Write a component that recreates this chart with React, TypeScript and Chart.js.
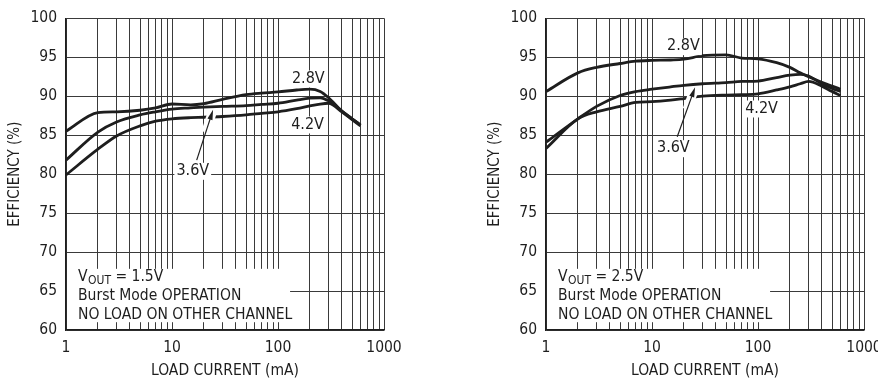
import React, { useEffect, useRef } from 'react';
import { Chart, registerables } from 'chart.js';

Chart.register(...registerables);

// ---------- data ----------
const loadCurrent = [1, 2, 3, 5, 7, 10, 15, 20, 30, 50, 70, 100, 150, 200, 250, 300, 400, 500, 600];

// V_OUT = 1.5V panel
const left28 = [85.5, 87.9, 88.0, 88.2, 88.5, 89.0, 88.9, 89.05, 89.6, 90.2, 90.4, 90.55, 90.8, 90.9, 90.6, 89.8, 88.1, 87.1, 86.3];
const left36 = [81.8, 85.4, 86.7, 87.6, 88.0, 88.35, 88.5, 88.6, 88.7, 88.8, 88.95, 89.1, 89.5, 89.75, 89.8, 89.4, 88.1, 87.1, 86.3];
const left42 = [79.9, 83.2, 84.9, 86.2, 86.8, 87.1, 87.25, 87.3, 87.4, 87.6, 87.8, 88.0, 88.4, 88.75, 89.0, 89.1, 88.0, 87.0, 86.2];

// V_OUT = 2.5V panel
const right28 = [90.6, 93.0, 93.7, 94.2, 94.5, 94.6, 94.65, 94.75, 95.2, 95.3, 94.9, 94.8, 94.3, 93.7, 93.0, 92.5, 91.8, 91.3, 90.9];
const right36 = [84.1, 87.1, 88.7, 90.1, 90.6, 90.9, 91.2, 91.4, 91.6, 91.75, 91.9, 91.95, 92.4, 92.7, 92.8, 92.6, 91.6, 91.0, 90.6];
const right42 = [83.3, 87.1, 88.0, 88.7, 89.2, 89.3, 89.5, 89.7, 90.0, 90.15, 90.2, 90.3, 90.8, 91.2, 91.6, 91.9, 91.3, 90.6, 90.1];

const seriesNames = ['2.8V', '3.6V', '4.2V'];
const xGridValues = [1, 2, 3, 4, 5, 6, 7, 8, 9, 10, 20, 30, 40, 50, 60, 70, 80, 90, 100, 200, 300, 400, 500, 600, 700, 800, 900, 1000];
const xTickLabels = ['1', '10', '100', '1000'];
const yTickValues = [60, 65, 70, 75, 80, 85, 90, 95, 100];
const xTitle = 'LOAD CURRENT (mA)';
const yTitle = 'EFFICIENCY (%)';

const FONT = '"Liberation Sans Narrow", "DejaVu Sans Condensed", "Arial Narrow", sans-serif';
const INK = '#1e1e1e';

type Note = { text: string; x: number; y: number };
type Panel = {
  values: number[][];
  vout: string;
  labels: Note[];
  arrow: { x0: number; y0: number; x1: number; y1: number };
};

const panels: Panel[] = [
  {
    values: [left28, left36, left42],
    vout: ' = 1.5V',
    labels: [
      { text: '2.8V', x: 193, y: 92.15 },
      { text: '4.2V', x: 190, y: 86.25 },
      { text: '3.6V', x: 15.7, y: 80.3 },
    ],
    arrow: { x0: 17.1, y0: 81.8, x1: 24.4, y1: 88.25 },
  },
  {
    values: [right28, right36, right42],
    vout: ' = 2.5V',
    labels: [
      { text: '2.8V', x: 19.8, y: 96.3 },
      { text: '4.2V', x: 108, y: 88.3 },
      { text: '3.6V', x: 15.9, y: 83.2 },
    ],
    arrow: { x0: 17.3, y0: 84.8, x1: 25.5, y1: 91.15 },
  },
];

const notesPlugin = {
  id: 'panelNotes',
  afterDatasetsDraw(chart: any, _args: any, opts: any) {
    const panel: Panel = opts.panel;
    if (!panel) return;
    const { ctx, chartArea } = chart;
    const xs = chart.scales.x;
    const ys = chart.scales.y;
    ctx.save();

    // bottom-left condition box
    const bx0 = chartArea.left + 1;
    const bx1 = xs.getPixelForValue(130);
    const by0 = ys.getPixelForValue(67.85);
    const by1 = ys.getPixelForValue(61.0);
    ctx.fillStyle = '#fff';
    ctx.fillRect(bx0, by0, bx1 - bx0, by1 - by0);

    ctx.fillStyle = INK;
    ctx.textBaseline = 'middle';
    ctx.textAlign = 'left';
    const tx = chartArea.left + 12;
    const big = `15.5px ${FONT}`;
    ctx.font = big;
    ctx.fillText('V', tx, by0 + 8);
    const vw = ctx.measureText('V').width;
    ctx.font = `12px ${FONT}`;
    ctx.fillText('OUT', tx + vw + 0.5, by0 + 12);
    const ow = ctx.measureText('OUT').width;
    ctx.font = big;
    ctx.fillText(panel.vout, tx + vw + 0.5 + ow, by0 + 8);
    ctx.fillText('Burst Mode OPERATION', tx, by0 + 27);
    ctx.fillText('NO LOAD ON OTHER CHANNEL', tx, by0 + 46);

    // arrow
    const a = panel.arrow;
    const ax0 = xs.getPixelForValue(a.x0);
    const ay0 = ys.getPixelForValue(a.y0);
    const ax1 = xs.getPixelForValue(a.x1);
    const ay1 = ys.getPixelForValue(a.y1);
    const ang = Math.atan2(ay1 - ay0, ax1 - ax0);
    const len = Math.hypot(ax1 - ax0, ay1 - ay0);
    const mx = ax0 + Math.cos(ang) * len * 0.55;
    const my = ay0 + Math.sin(ang) * len * 0.55;
    ctx.strokeStyle = '#fff';
    ctx.lineWidth = 9;
    ctx.beginPath();
    ctx.moveTo(mx, my);
    ctx.lineTo(ax1 - Math.cos(ang) * 2, ay1 - Math.sin(ang) * 2);
    ctx.stroke();
    ctx.strokeStyle = INK;
    ctx.lineWidth = 1.2;
    ctx.beginPath();
    ctx.moveTo(ax0, ay0);
    ctx.lineTo(ax1 - Math.cos(ang) * 6, ay1 - Math.sin(ang) * 6);
    ctx.stroke();
    ctx.fillStyle = INK;
    ctx.beginPath();
    ctx.moveTo(ax1, ay1);
    ctx.lineTo(ax1 - Math.cos(ang) * 10 + Math.sin(ang) * 2.6, ay1 - Math.sin(ang) * 10 - Math.cos(ang) * 2.6);
    ctx.lineTo(ax1 - Math.cos(ang) * 10 - Math.sin(ang) * 2.6, ay1 - Math.sin(ang) * 10 + Math.cos(ang) * 2.6);
    ctx.closePath();
    ctx.fill();

    // series labels
    ctx.font = `16px ${FONT}`;
    ctx.textAlign = 'center';
    for (const n of panel.labels) {
      const px = xs.getPixelForValue(n.x);
      const py = ys.getPixelForValue(n.y);
      const w = ctx.measureText(n.text).width;
      ctx.fillStyle = '#fff';
      ctx.fillRect(px - w / 2 - 2, py - 9, w + 4, 17);
      ctx.fillStyle = INK;
      ctx.fillText(n.text, px, py - 1);
    }
    ctx.restore();
  },
};

function EfficiencyChart({ panel, left }: { panel: Panel; left: number }) {
  const ref = useRef<HTMLCanvasElement | null>(null);
  useEffect(() => {
    if (!ref.current) return;
    const chart = new Chart(ref.current, {
      type: 'line',
      data: {
        datasets: panel.values.map((vals, i) => ({
          label: seriesNames[i],
          data: loadCurrent.map((c, j) => ({ x: c, y: vals[j] })),
          borderColor: INK,
          borderWidth: 2.8,
          pointRadius: 0,
          cubicInterpolationMode: 'monotone' as const,
          fill: false,
        })),
      },
      options: {
        responsive: false,
        animation: false,
        events: [],
        layout: { padding: { left: 0, top: 14, right: 56, bottom: 0 } },
        plugins: {
          legend: { display: false },
          tooltip: { enabled: false },
          panelNotes: { panel },
        } as any,
        scales: {
          x: {
            type: 'logarithmic',
            min: 1,
            max: 1000,
            afterBuildTicks: (s: any) => {
              s.ticks = xGridValues.map((v) => ({ value: v, major: xTickLabels.includes(String(v)) }));
            },
            afterFit: (s: any) => {
              s.height = 53;
            },
            grid: { color: '#3a3a3a', lineWidth: 1, drawTicks: false },
            border: { color: INK, width: 1.5 },
            ticks: {
              autoSkip: false,
              maxRotation: 0,
              padding: 9,
              color: INK,
              font: { family: FONT, size: 15.5 },
              callback: (v: any) => (xTickLabels.includes(String(v)) ? String(v) : ''),
            },
            title: {
              display: true,
              text: xTitle,
              color: INK,
              font: { family: FONT, size: 15.5 },
              padding: { top: 0, bottom: 3 },
            },
          },
          y: {
            type: 'linear',
            min: 60,
            max: 100,
            afterBuildTicks: (s: any) => {
              s.ticks = yTickValues.map((v) => ({ value: v }));
            },
            afterFit: (s: any) => {
              s.width = 66;
            },
            grid: { color: '#3a3a3a', lineWidth: 1, drawTicks: false },
            border: { color: INK, width: 1.5 },
            ticks: {
              padding: 9,
              color: INK,
              font: { family: FONT, size: 15.5 },
            },
            title: {
              display: true,
              text: yTitle,
              color: INK,
              font: { family: FONT, size: 15 },
              padding: { top: 6, bottom: 0 },
            },
          },
        },
      },
      plugins: [notesPlugin],
    } as any);
    return () => chart.destroy();
  }, [panel]);
  return (
    <canvas
      ref={ref}
      width={440}
      height={383}
      style={{ position: 'absolute', left, top: 0, width: 440, height: 383, display: 'block' }}
    />
  );
}

export default function App() {
  useEffect(() => {
    document.body.style.margin = '0';
  }, []);
  return (
    <div style={{ position: 'relative', width: 878, height: 383, overflow: 'hidden', background: '#fff' }}>
      <EfficiencyChart panel={panels[0]} left={0} />
      <EfficiencyChart panel={panels[1]} left={480} />
    </div>
  );
}
